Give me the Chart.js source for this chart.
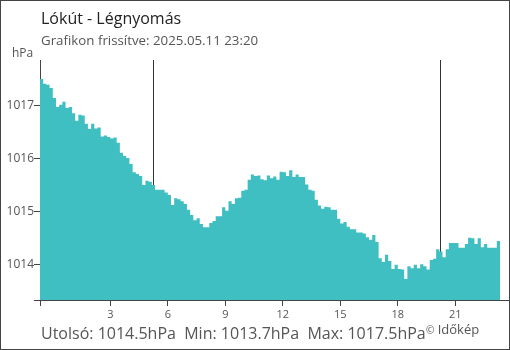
<!DOCTYPE html>
<html>
<head>
<meta charset="utf-8">
<script src="https://cdn.jsdelivr.net/npm/chart.js@4.4.1/dist/chart.umd.min.js"></script>
<style>
    body { margin: 0; background: #fff; }
    #wrap { position: relative; width: 510px; height: 350px; font-family: 'Open Sans', sans-serif; overflow: hidden; }
    #frame { position: absolute; left: 0; top: 0; width: 510px; height: 350px; box-sizing: border-box; border: 1px solid #444; pointer-events: none; }
    canvas { position: absolute; left: 0; top: 0; }
    .txt { position: absolute; line-height: 1; white-space: pre; }
    #title { left: 41px; top: 10px; font-size: 16px; color: #222; }
    #sub { left: 41px; top: 34px; font-size: 13.3px; color: #555; }
    #unit { left: 12px; top: 47px; font-size: 12px; color: #555; }
    #stats { left: 41px; top: 325px; font-size: 16px; color: #555; }
    #credit { left: 426px; top: 323px; font-size: 13px; color: #555; }
    #credit small { font-size: 10px; }
</style>
</head>
<body>
<div id="wrap">
    <canvas id="pressureChart" width="510" height="350"></canvas>
    <div class="txt" id="title">Lókút - Légnyomás</div>
    <div class="txt" id="sub">Grafikon frissítve: 2025.05.11 23:20</div>
    <div class="txt" id="unit">hPa</div>
    <div class="txt" id="stats">Utolsó: 1014.5hPa  Min: 1013.7hPa  Max: 1017.5hPa</div>
    <div class="txt" id="credit"><small>©</small> Időkép</div>
    <div id="frame"></div>
</div>
<script>
// 10 minute readings, 23:20 previous day -> 23:20
const startHour = -2 / 3;
const stepHours = 1 / 6;
const pressure = [
    1017.51, 1017.42, 1017.40, 1017.34, 1017.15, 1016.98, 1017.02, 1017.08, 1016.96, 1016.98,
    1016.86, 1016.72, 1016.83, 1016.82, 1016.66, 1016.56, 1016.66, 1016.57, 1016.59, 1016.42,
    1016.44, 1016.41, 1016.38, 1016.40, 1016.30, 1016.11, 1016.05, 1016.01, 1015.90, 1015.74,
    1015.71, 1015.67, 1015.50, 1015.58, 1015.56, 1015.50, 1015.41, 1015.41, 1015.41, 1015.36,
    1015.31, 1015.12, 1015.25, 1015.23, 1015.19, 1015.14, 1015.03, 1014.93, 1014.83, 1014.87,
    1014.76, 1014.70, 1014.70, 1014.78, 1014.82, 1014.91, 1014.91, 1015.08, 1015.01, 1015.19,
    1015.14, 1015.25, 1015.26, 1015.39, 1015.41, 1015.60, 1015.70, 1015.67, 1015.68, 1015.61,
    1015.59, 1015.68, 1015.63, 1015.66, 1015.60, 1015.75, 1015.74, 1015.67, 1015.78, 1015.65,
    1015.70, 1015.65, 1015.65, 1015.51, 1015.41, 1015.39, 1015.22, 1015.11, 1015.05, 1015.09,
    1015.08, 1015.03, 1015.03, 1014.86, 1014.77, 1014.80, 1014.71, 1014.66, 1014.66, 1014.60,
    1014.60, 1014.58, 1014.51, 1014.46, 1014.55, 1014.42, 1014.11, 1014.04, 1014.18, 1014.06,
    1013.91, 1013.99, 1013.91, 1013.90, 1013.72, 1013.96, 1013.92, 1013.99, 1013.92, 1014.00,
    1013.96, 1013.90, 1014.08, 1014.10, 1014.28, 1014.24, 1014.13, 1014.28, 1014.40, 1014.40,
    1014.40, 1014.31, 1014.31, 1014.38, 1014.50, 1014.49, 1014.38, 1014.49, 1014.32, 1014.38,
    1014.31, 1014.31, 1014.31, 1014.44, 1014.50
];
const hourTicks = [3, 6, 9, 12, 15, 18, 21];
const pressureTicks = [1014, 1015, 1016, 1017];
const sunLines = [5.23, 20.22]; // napkelte, napnyugta
const xMin = startHour, xMax = 23.75;
const yMin = 1013.32, yMax = 1017.87;

const points = pressure.map((p, i) => ({ x: startHour + i * stepHours, y: p }));

const sunPlugin = {
    id: 'sunLines',
    beforeDatasetsDraw(chart) {
        const { ctx, chartArea, scales } = chart;
        ctx.save();
        ctx.strokeStyle = '#333';
        ctx.lineWidth = 1;
        sunLines.forEach(h => {
            const x = Math.round(scales.x.getPixelForValue(h)) + 0.5;
            ctx.beginPath();
            ctx.moveTo(x, chartArea.top);
            ctx.lineTo(x, chartArea.bottom);
            ctx.stroke();
        });
        ctx.restore();
    }
};

new Chart(document.getElementById('pressureChart'), {
    type: 'line',
    data: {
        datasets: [{
            data: points,
            stepped: true,
            fill: 'start',
            backgroundColor: '#40bfc2',
            borderWidth: 0,
            pointRadius: 0
        }]
    },
    options: {
        responsive: false,
        animation: false,
        devicePixelRatio: 1,
        layout: { padding: { top: 60, right: 2, left: 0, bottom: 0 } },
        plugins: { legend: { display: false }, tooltip: { enabled: false } },
        scales: {
            x: {
                type: 'linear', min: xMin, max: xMax,
                afterBuildTicks: s => { s.ticks = [xMin, ...hourTicks].map(v => ({ value: v })); },
                afterFit: s => { s.height = 50; },
                ticks: {
                    autoSkip: false, maxRotation: 0, padding: 2, color: '#555',
                    font: { family: 'Open Sans', size: 11 },
                    callback: v => hourTicks.includes(v) ? String(v) : ''
                },
                grid: { drawOnChartArea: false, tickLength: 6, color: '#444' },
                border: { color: '#444' }
            },
            y: {
                min: yMin, max: yMax,
                afterBuildTicks: s => { s.ticks = [yMin, ...pressureTicks].map(v => ({ value: v })); },
                afterFit: s => { s.width = 40; },
                ticks: {
                    padding: 0, color: '#555',
                    font: { family: 'Open Sans', size: 12 },
                    callback: v => pressureTicks.includes(v) ? String(v) : ''
                },
                grid: { drawOnChartArea: false, tickLength: 6, color: '#444' },
                border: { color: '#444' }
            }
        }
    },
    plugins: [sunPlugin]
});
</script>
</body>
</html>
